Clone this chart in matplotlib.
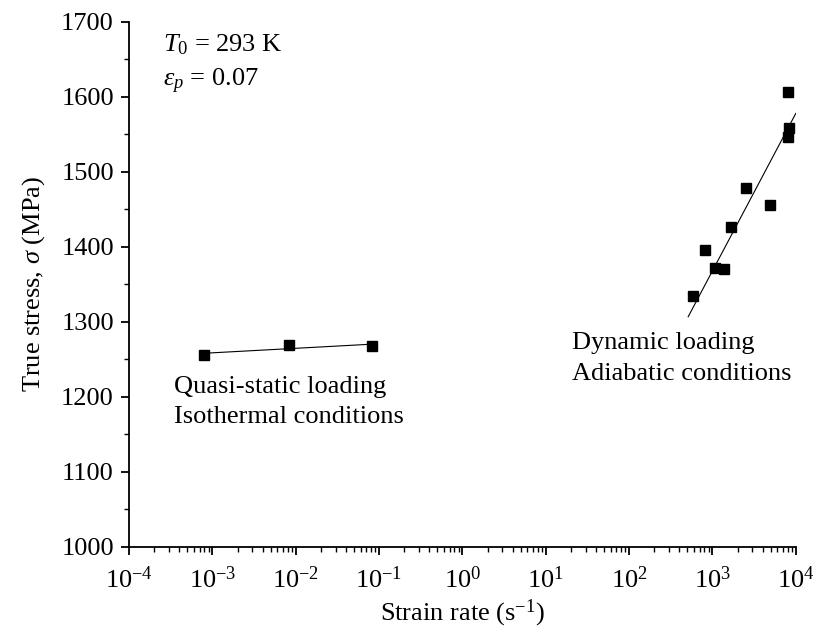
import numpy as np
import matplotlib
matplotlib.use('Agg')
import matplotlib.pyplot as plt
from matplotlib.ticker import LogLocator, MultipleLocator, FuncFormatter, NullFormatter

plt.rcParams['font.family'] = ['Liberation Serif', 'DejaVu Serif']
plt.rcParams['mathtext.fontset'] = 'custom'
plt.rcParams['mathtext.rm'] = 'Liberation Serif'
plt.rcParams['mathtext.it'] = 'Liberation Serif:italic'

# quasi-static tests (isothermal)
qs_rate = [8.0e-4, 8.2e-3, 8.3e-2]
qs_stress = [1256, 1269, 1268]
qs_fit_rate = [8.0e-4, 9.5e-2]
qs_fit_stress = [1258.3, 1270.8]

# dynamic tests (adiabatic)
dyn_rate = [589, 806, 1063, 1387, 1670, 2550, 4940, 8050, 8300, 8050]
dyn_stress = [1334, 1396, 1372, 1371, 1426, 1479, 1456, 1606, 1558, 1547]
dyn_fit_rate = [512, 1.0e4]
dyn_fit_stress = [1307, 1578]

fig = plt.figure(figsize=(8.17, 6.35), dpi=100)
ax = fig.add_axes([0.158, 0.1386, 0.816, 0.8268])

ax.plot(qs_fit_rate, qs_fit_stress, color='black', lw=0.8)
ax.plot(dyn_fit_rate, dyn_fit_stress, color='black', lw=0.8)
ax.plot(qs_rate, qs_stress, 's', color='black', ms=7.2, zorder=3)
ax.plot(dyn_rate, dyn_stress, 's', color='black', ms=7.2, zorder=3)

ax.set_xscale('log')
ax.set_xlim(1e-4, 1e4)
ax.set_ylim(1000, 1700)

ax.xaxis.set_major_locator(LogLocator(base=10, numticks=20))
ax.xaxis.set_minor_locator(LogLocator(base=10, subs=np.arange(2, 10), numticks=20))
ax.xaxis.set_major_formatter(FuncFormatter(lambda v, p: r'$\mathregular{10^{%d}}$' % round(np.log10(v))))
ax.xaxis.set_minor_formatter(NullFormatter())
ax.yaxis.set_major_locator(MultipleLocator(100))
ax.yaxis.set_minor_locator(MultipleLocator(50))

for s in ['top', 'right']:
    ax.spines[s].set_visible(False)
for s in ['left', 'bottom']:
    ax.spines[s].set_linewidth(1.3)

ax.tick_params(which='major', direction='out', length=6, width=1.3, labelsize=19, pad=5)
ax.tick_params(axis='x', which='major', pad=8)
ax.tick_params(which='minor', direction='out', length=3.5, width=1.0)

ax.set_xlabel(r'Strain rate (s$^{\mathregular{-1}}$)', fontsize=19)
ax.xaxis.set_label_coords(0.5, -0.097)
ax.set_ylabel(r'True stress, $\sigma$ (MPa)', fontsize=19, labelpad=10)

ax.text(0.051, 0.956, r'$T_{\mathit{0}}$ = 293 K', transform=ax.transAxes, fontsize=19, va='center')
ax.text(0.051, 0.886, r'$\varepsilon_p$ = 0.07', transform=ax.transAxes, fontsize=19, va='center')
ax.text(3.5e-4, 1193, 'Quasi-static loading\nIsothermal conditions', fontsize=19,
        va='center', linespacing=1.5)
ax.text(20.6, 1251, 'Dynamic loading\nAdiabatic conditions', fontsize=19,
        va='center', linespacing=1.5)

fig.savefig('out.png', dpi=100)
